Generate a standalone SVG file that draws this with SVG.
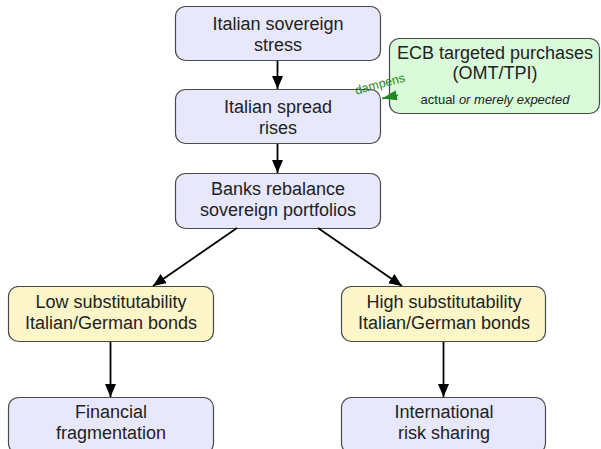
<svg xmlns="http://www.w3.org/2000/svg" width="601" height="449" viewBox="0 0 601 449">
<defs>
<style>
.box{stroke:#4a4a4a;stroke-width:1.2}
.blue{fill:#e8e8fc}
.yellow{fill:#fcf6c8}
.green{fill:#d9fbd9}
text{font-family:"Liberation Sans",Arial,sans-serif;fill:#222;text-anchor:middle}
.t{font-size:18px}
.s{font-size:13px}
.edge{stroke:#000;stroke-width:1.8;fill:none;marker-end:url(#ah)}
</style>
<marker id="ah" markerUnits="userSpaceOnUse" markerWidth="14" markerHeight="12" refX="13" refY="5.5" orient="auto">
<path d="M0,0 L13,5.5 L0,11 z" fill="#000"/>
</marker>
<marker id="gh" markerUnits="userSpaceOnUse" markerWidth="16" markerHeight="12" refX="15" refY="5" orient="auto">
<path d="M0,0 L15,5 L0,10 z" fill="#1f8a1f"/>
</marker>
</defs>
<g id="n1">
<rect class="box blue" x="175.5" y="6.5" width="205" height="54" rx="10"/>
<text class="t" x="278" y="30">Italian sovereign</text>
<text class="t" x="278" y="51">stress</text>
</g>
<g id="n2">
<rect class="box blue" x="175.5" y="89.5" width="205" height="54" rx="10"/>
<text class="t" x="278" y="113">Italian spread</text>
<text class="t" x="278" y="134">rises</text>
</g>
<g id="n3">
<rect class="box blue" x="175.5" y="173.5" width="205" height="55" rx="10"/>
<text class="t" x="278" y="195">Banks rebalance</text>
<text class="t" x="278" y="216">sovereign portfolios</text>
</g>
<g id="ecb">
<rect class="box green" x="389.5" y="38.5" width="210" height="75" rx="10"/>
<text class="t" x="495" y="59">ECB targeted purchases</text>
<text class="t" x="495" y="79">(OMT/TPI)</text>
<text class="s" x="495" y="104">actual <tspan font-style="italic">or merely expected</tspan></text>
</g>
<g id="n4">
<rect class="box yellow" x="8.5" y="286.5" width="205" height="55" rx="10"/>
<text class="t" x="111" y="308">Low substitutability</text>
<text class="t" x="111" y="329">Italian/German bonds</text>
</g>
<g id="n5">
<rect class="box yellow" x="341.5" y="286.5" width="204" height="55" rx="10"/>
<text class="t" x="444" y="308">High substitutability</text>
<text class="t" x="444" y="329">Italian/German bonds</text>
</g>
<g id="n6">
<rect class="box blue" x="8.5" y="397.5" width="205" height="56" rx="10"/>
<text class="t" x="111" y="418">Financial</text>
<text class="t" x="111" y="439">fragmentation</text>
</g>
<g id="n7">
<rect class="box blue" x="341.5" y="397.5" width="204" height="56" rx="10"/>
<text class="t" x="444" y="418">International</text>
<text class="t" x="444" y="439">risk sharing</text>
</g>
<g id="connectors">
<line class="edge" x1="277.5" y1="61" x2="277.5" y2="89"/>
<line class="edge" x1="277.5" y1="144" x2="277.5" y2="173"/>
<line class="edge" x1="237" y1="228" x2="153" y2="286"/>
<line class="edge" x1="318" y1="228" x2="402" y2="286"/>
<line class="edge" x1="110.5" y1="342" x2="110.5" y2="397"/>
<line class="edge" x1="443.5" y1="342" x2="443.5" y2="397"/>
<line x1="398" y1="95" x2="382" y2="98.5" stroke="#1f8a1f" stroke-width="1.5" marker-end="url(#gh)"/>
<text x="381" y="88" transform="rotate(-15 381 88)" style="font-size:12.5px;fill:#1f8a1f">dampens</text>
</g>
</svg>
